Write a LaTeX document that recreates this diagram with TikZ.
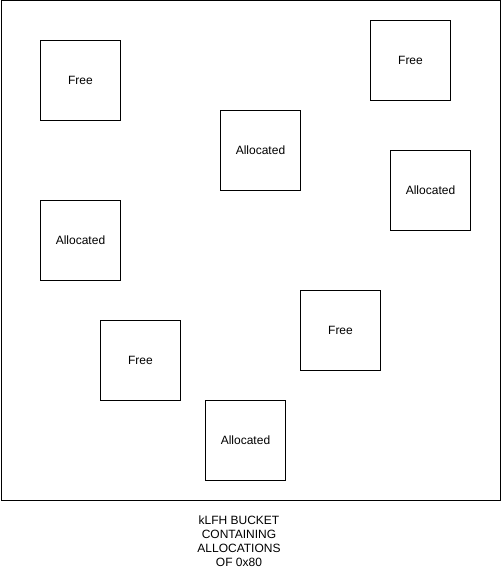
\documentclass[tikz,border=0pt]{standalone}
\usepackage{fontspec}
\setmainfont{Liberation Sans}
\begin{document}
\begin{tikzpicture}[x=1pt,y=-1pt,
  blk/.style={draw=black,line width=1pt,minimum width=80pt,minimum height=80pt,inner sep=0pt,font=\fontsize{12}{14}\selectfont,anchor=north west},
  captiontext/.style={align=center,font=\fontsize{12}{14}\selectfont,inner sep=0pt}]
\useasboundingbox (0,0) rectangle (501,569);
\node[draw=black,line width=1pt,minimum width=499.5pt,minimum height=499.5pt,inner sep=0pt,anchor=north west] (bucket) at (0.5,0.5) {};
\node[blk] (f1) at (40,40) {Free};
\node[blk] (f2) at (370,20) {Free};
\node[blk] (a1) at (220,110) {Allocated};
\node[blk] (a2) at (390,150) {Allocated};
\node[blk] (a3) at (40,200) {Allocated};
\node[blk] (f3) at (300,290) {Free};
\node[blk] (f4) at (100,320) {Free};
\node[blk] (a4) at (205,400) {Allocated};
\node[captiontext] (label) at (239,541) {kLFH BUCKET\\CONTAINING\\ALLOCATIONS\\OF 0x80};
\end{tikzpicture}
\end{document}
